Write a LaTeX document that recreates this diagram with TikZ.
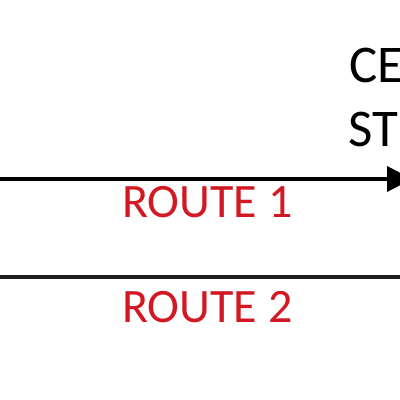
\documentclass[tikz,border=0pt]{standalone}
\usepackage{fontspec}
\setmainfont{Carlito}
\usetikzlibrary{arrows.meta}
\definecolor{routered}{RGB}{210,25,35}
\definecolor{linegray}{RGB}{30,30,30}
\tikzset{
  routelabel/.style={text=routered, font=\fontsize{48}{52}\selectfont, anchor=base west, inner sep=0pt},
  stationlabel/.style={text=black, font=\fontsize{53}{56}\selectfont, anchor=base west, inner sep=0pt},
  routeline/.style={line width=3.5pt, draw=linegray},
}
\begin{document}
\begin{tikzpicture}[x=1pt,y=-1pt]
\useasboundingbox (0,0) rectangle (400,400);
\clip (0,0) rectangle (400,400);
\fill[white] (0,0) rectangle (400,400);
\node[stationlabel] (ce) at (349,82) {CE};
\node[stationlabel] (st) at (348,146) {ST};
\coordinate (r1s) at (-5,179);
\coordinate (r1e) at (412,179);
\draw[line width=4pt, -{Triangle[length=25pt,width=25pt]}] (r1s) -- (r1e);
\node[routelabel] (l1) at (122,217) {ROUTE 1};
\coordinate (r2s) at (-5,277);
\coordinate (r2e) at (405,277);
\draw[routeline] (r2s) -- (r2e);
\node[routelabel] (l2) at (122,322) {ROUTE 2};
\end{tikzpicture}
\end{document}
